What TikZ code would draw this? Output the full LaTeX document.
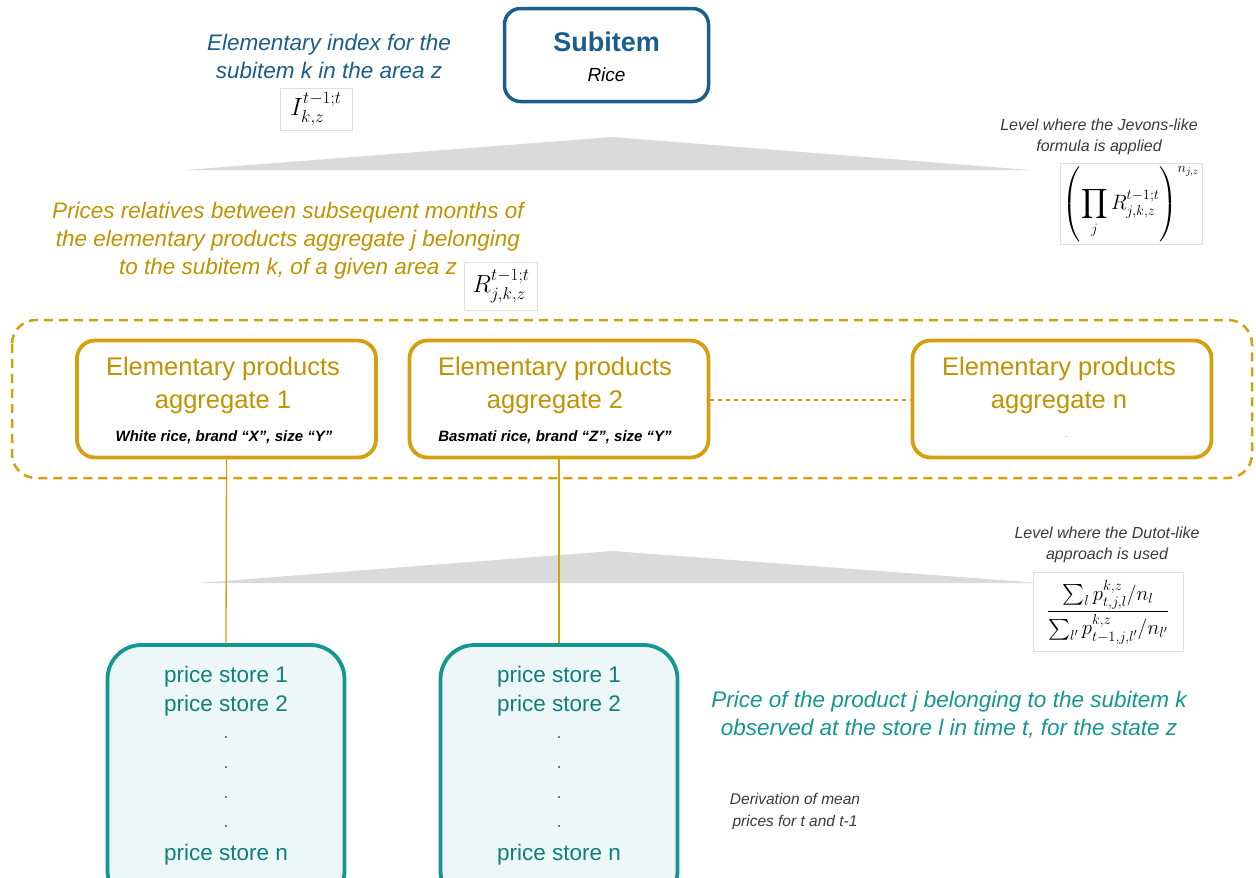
\documentclass[tikz,border=0pt]{standalone}
\usepackage{amsmath}
\usepackage{fontspec}
\setmainfont{Liberation Sans}
\definecolor{subblue}{HTML}{1A5F8C}
\definecolor{txtblue}{HTML}{1B5F87}
\definecolor{goldline}{HTML}{D4A010}
\definecolor{goldtxt}{HTML}{BF9400}
\definecolor{teal}{HTML}{14978F}
\definecolor{tealtxt}{HTML}{0F7F7A}
\definecolor{tealfill}{HTML}{EDF7F8}
\definecolor{trigray}{HTML}{DADADA}
\definecolor{darktxt}{HTML}{3A3A3A}
\tikzset{
  subbox/.style={draw=subblue, line width=3.5pt, rounded corners=16pt, minimum width=204pt, minimum height=93pt},
  aggbox/.style={draw=goldline, line width=3.8pt, rounded corners=18pt, minimum width=299pt, minimum height=117pt},
  storebox/.style={draw=teal, fill=tealfill, line width=3.8pt, rounded corners=34pt, minimum width=237pt, minimum height=260pt},
  fbox/.style={draw=gray!25, line width=0.6pt, fill=white, inner sep=3pt},
  bluetxt/.style={text=txtblue, font=\fontsize{22.5}{28}\selectfont\itshape, align=center},
  goldital/.style={text=goldtxt, font=\fontsize{22.5}{28}\selectfont\itshape, align=center},
  aggtxt/.style={text=goldtxt, font=\fontsize{25.5}{33}\selectfont, align=center},
  subtxt/.style={text=black, font=\fontsize{15}{19}\selectfont\bfseries\itshape},
  storetxt/.style={text=tealtxt, font=\fontsize{22.5}{28}\selectfont},
  dottxt/.style={text=tealtxt, font=\fontsize{18}{20}\selectfont},
  leveltxt/.style={text=darktxt, font=\fontsize{16}{21}\selectfont\itshape, align=center, inner sep=1pt},
  tealital/.style={text=teal, font=\fontsize{22.5}{28}\selectfont\itshape, align=center},
  tri/.style={fill=trigray},
  goldconn/.style={draw=goldline, line width=1.3pt},
}
\begin{document}
\begin{tikzpicture}[x=1pt,y=-1pt]
\clip (0,0) rectangle (1256,878);
\fill[white] (0,0) rectangle (1256,878);

% grey triangles
\fill[tri] (185,170) -- (612,137) -- (1030,170) -- cycle;
\fill[tri] (198,583) -- (612,551) -- (1040,583) -- cycle;

% subitem
\node[subbox] (sub) at (606.5,55) {};
\node[text=subblue, font=\fontsize{27}{30}\selectfont\bfseries] (subt) at (606.5,42) {Subitem};
\node[text=black, font=\fontsize{19}{22}\selectfont\itshape] (rice) at (606.5,75) {Rice};

\node[bluetxt] (elidx) at (329,56) {Elementary index for the\\subitem k in the area z};
\node[fbox, font=\fontsize{25}{28}\selectfont, minimum width=72pt, minimum height=42pt] (Iform) at (316,109) {$I^{t-1;t}_{k,z}$};

% Jevons
\node[leveltxt] (jev) at (1099,137) {Level where the Jevons-like\\formula is applied};
\node[fbox, font=\fontsize{20}{24}\selectfont, minimum width=138pt, minimum height=78pt] (jform) at (1131,204) {$\displaystyle\left(\prod_j R^{t-1;t}_{j,k,z}\right)^{n_{j,z}}$};

% prices relatives
\node[goldital] (prel) at (288,241) {Prices relatives between subsequent months of\\the elementary products aggregate j belonging\\to the subitem k, of a given area z};
\node[fbox, font=\fontsize{25}{28}\selectfont, minimum width=73pt, minimum height=48pt] (Rform) at (501,286) {$R^{t-1;t}_{j,k,z}$};

% dashed container
\draw[goldline, line width=2.5pt, dash pattern=on 9pt off 6pt, rounded corners=24pt] (12,320) rectangle (1252,478);

% aggregate boxes
\node[aggbox] (agg1) at (226.5,399) {};
\node[aggbox] (agg2) at (559,399) {};
\node[aggbox] (aggn) at (1062,399) {};
\node[aggtxt] (agg1t) at (223,385) {Elementary products\\aggregate 1};
\node[subtxt] (agg1s) at (224,437) {White rice, brand “X”, size “Y”};
\node[aggtxt] (agg2t) at (555,385) {Elementary products\\aggregate 2};
\node[subtxt] (agg2s) at (555,437) {Basmati rice, brand “Z”, size “Y”};
\node[aggtxt] (aggnt) at (1059,385) {Elementary products\\aggregate n};
\node[text=gray!70, font=\fontsize{10}{10}\selectfont] (aggnd) at (1066,437) {.};
\draw[goldline, line width=1.3pt, dash pattern=on 4pt off 4pt] (agg2.east |- 0,400) -- (aggn.west |- 0,400);

% store boxes
\node[storebox] (st1) at (226,775) {};
\node[storebox] (st2) at (559,775) {};
\draw[goldconn] (agg1.south) -- (st1.north);
\draw[goldconn] (agg2.south) -- (st2.north);

\foreach \n/\x in {a/226, b/559}{
  \node[storetxt] (ps1\n) at (\x,677) {price store 1};
  \node[storetxt] (ps2\n) at (\x,706) {price store 2};
  \node[dottxt] (d1\n) at (\x,738) {.};
  \node[dottxt] (d2\n) at (\x,768) {.};
  \node[dottxt] (d3\n) at (\x,798) {.};
  \node[dottxt] (d4\n) at (\x,827) {.};
  \node[storetxt] (psn\n) at (\x,855) {price store n};
}

% Dutot
\node[leveltxt] (dut) at (1107,545) {Level where the Dutot-like\\approach is used};
\node[fbox, font=\fontsize{22}{26}\selectfont, minimum width=150pt, minimum height=79pt] (dform) at (1108,612) {$\dfrac{\sum_l p^{k,z}_{t,j,l}/n_l}{\sum_{l'} p^{k,z}_{t-1,j,l'}/n_{l'}}$};

% teal text
\node[tealital] (pprod) at (949,715) {Price of the product j belonging to the subitem k\\observed at the store l in time t, for the state z};

\node[leveltxt, font=\fontsize{15.5}{22}\selectfont\itshape] (deriv) at (795,811) {Derivation of mean\\prices for t and t-1};
\end{tikzpicture}
\end{document}
